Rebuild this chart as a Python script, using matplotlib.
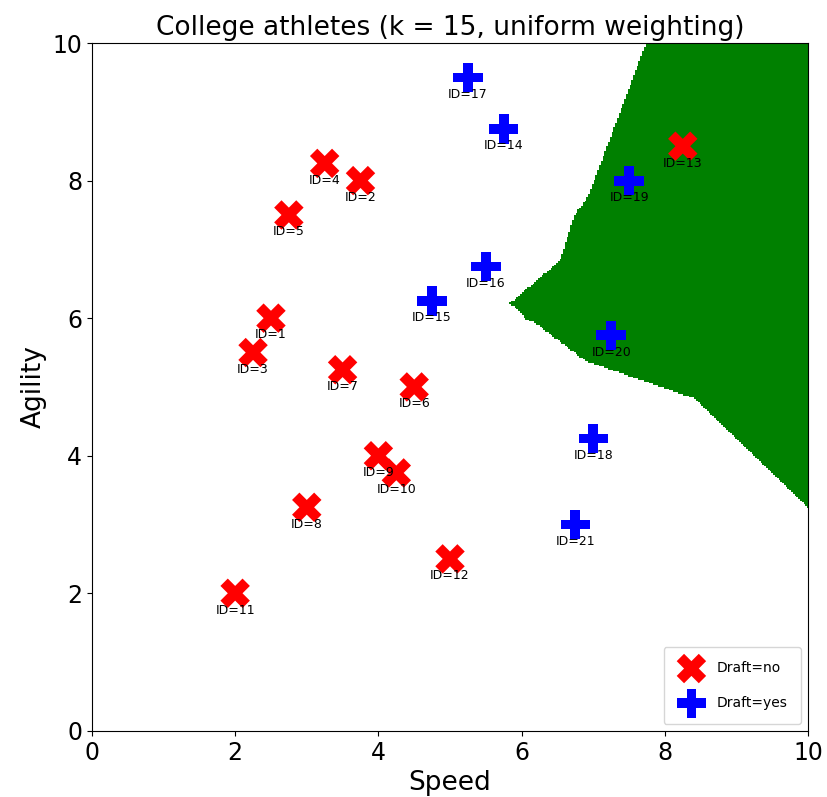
import numpy as np
import matplotlib
matplotlib.use("Agg")
import matplotlib.pyplot as plt
from matplotlib.colors import ListedColormap

ids = list(range(1, 22))
speed = [2.50, 3.75, 2.25, 3.25, 2.75, 4.50, 3.50, 3.00, 4.00, 4.25, 2.00,
         5.00, 8.25, 5.75, 4.75, 5.50, 5.25, 7.00, 7.50, 7.25, 6.75]
agility = [6.00, 8.00, 5.50, 8.25, 7.50, 5.00, 5.25, 3.25, 4.00, 3.75, 2.00,
           2.50, 8.50, 8.75, 6.25, 6.75, 9.50, 4.25, 8.00, 5.75, 3.00]
draft = ["no"] * 13 + ["yes"] * 8
k = 15

X = np.column_stack([speed, agility])
y = np.array([1 if d == "yes" else 0 for d in draft])

# kNN decision surface on a grid
gx = np.linspace(0, 10, 400)
gy = np.linspace(0, 10, 400)
GX, GY = np.meshgrid(gx, gy)
pts = np.column_stack([GX.ravel(), GY.ravel()])
d = np.sqrt(((pts[:, None, :] - X[None, :, :]) ** 2).sum(axis=2))
nn = np.argsort(d, axis=1)[:, :k]
votes = y[nn].sum(axis=1)
Z = (votes > k / 2).astype(float).reshape(GX.shape)

fig = plt.figure(figsize=(8.28, 7.97), dpi=100)
ax = fig.add_axes([0.111, 0.083, 0.865, 0.863])
ax.pcolormesh(GX, GY, Z, cmap=ListedColormap(["white", "green"]), shading="auto")

sx = np.array(speed); sy = np.array(agility)
no = y == 0
yes = y == 1
ax.scatter(sx[no], sy[no], marker="X", s=450, c="red", edgecolors="none", label="Draft=no", zorder=3)
ax.scatter(sx[yes], sy[yes], marker="P", s=450, c="blue", edgecolors="none", label="Draft=yes", zorder=3)
for i, xx, yy in zip(ids, speed, agility):
    ax.text(xx, yy - 0.15, f"ID={i}", ha="center", va="top", fontsize=9, zorder=4)

ax.set_xlim(0, 10)
ax.set_ylim(0, 10)
ax.set_xticks([0, 2, 4, 6, 8, 10])
ax.set_yticks([0, 2, 4, 6, 8, 10])
ax.tick_params(labelsize=17)
ax.set_xlabel("Speed", fontsize=19)
ax.set_ylabel("Agility", fontsize=19)
ax.set_title("College athletes (k = 15, uniform weighting)", fontsize=19)
ax.legend(loc="lower right", fontsize=10, borderpad=1.0, labelspacing=1.5)

fig.savefig("out.png", dpi=100)
